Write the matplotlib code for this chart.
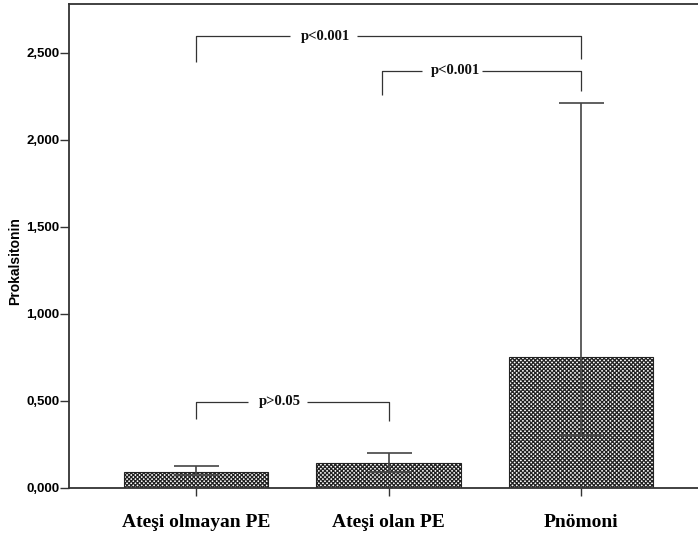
import numpy as np
import matplotlib
matplotlib.use('Agg')
import matplotlib.pyplot as plt

# Data
groups = ['Ateşi olmayan PE', 'Ateşi olan PE', 'Pnömoni']
means = [0.094, 0.142, 0.753]
err_up = [0.034, 0.057, 1.458]
err_low = [0.020, 0.050, 0.448]
yticks = [0.0, 0.5, 1.0, 1.5, 2.0, 2.5]
ytick_labels = ['0,000', '0,500', '1,000', '1,500', '2,000', '2,500']

# significance brackets: (x_left, x_right, y, left_bottom, right_bottom, text, text_x, gap_left, gap_right)
brackets = [
    (0.0, 2.0, 2.594, 2.444, 2.464, 'p<0.001', 0.675, 0.488, 0.835),
    (0.965, 2.0, 2.398, 2.259, 2.278, 'p<0.001', 1.35, 1.172, 1.484),
    (0.0, 1.0, 0.496, 0.395, 0.387, 'p>0.05', 0.436, 0.27, 0.575),
]

plt.rcParams['hatch.linewidth'] = 0.9
plt.rcParams['hatch.color'] = '#222222'

fig = plt.figure(figsize=(6.98, 5.4), dpi=100)
ax = fig.add_axes([69 / 698, 1 - 488 / 540, 1 - 69 / 698, (488 - 4) / 540])

x = np.arange(len(groups))
ax.bar(x, means, width=0.753, color='white', edgecolor='#222222', hatch='x' * 8, linewidth=0.8, zorder=2)
ax.errorbar(x, means, yerr=[err_low, err_up], fmt='none', ecolor='#444444',
            elinewidth=1.2, capsize=16.2, capthick=1.2, zorder=3)

lc = '#333333'
for x0, x1, y, b0, b1, txt, tx, g0, g1 in brackets:
    ax.plot([x0, x0, g0], [b0, y, y], color=lc, lw=0.9, solid_capstyle='butt')
    ax.plot([g1, x1, x1], [y, y, b1], color=lc, lw=0.9, solid_capstyle='butt')
    ax.text(tx, y, txt, ha='center', va='center', fontsize=10.5, fontweight='bold',
            family='Liberation Serif', color='#111111')

ax.set_xlim(-0.66, 2.608)
ax.set_ylim(0, 2.78)
ax.set_yticks(yticks)
ax.set_yticklabels(ytick_labels, fontsize=9.5, fontweight='bold', family='Liberation Sans')
ax.set_xticks(x)
ax.set_xticklabels(groups, fontsize=14, fontweight='bold', family='Liberation Serif')
ax.tick_params(axis='y', direction='out', length=6.5, width=1.0, color='#333333', pad=0.5)
ax.tick_params(axis='x', direction='out', length=6, width=1.0, color='#333333', pad=13)

for s in ['left', 'top', 'bottom']:
    ax.spines[s].set_color('#333333')
    ax.spines[s].set_linewidth(1.3)
ax.spines['right'].set_visible(False)

fig.text(15 / 698, 1 - 261 / 540, 'Prokalsitonin', rotation=90, ha='center', va='center',
         fontsize=10, fontweight='bold', family='Liberation Sans')

fig.savefig('out.png', dpi=100)
